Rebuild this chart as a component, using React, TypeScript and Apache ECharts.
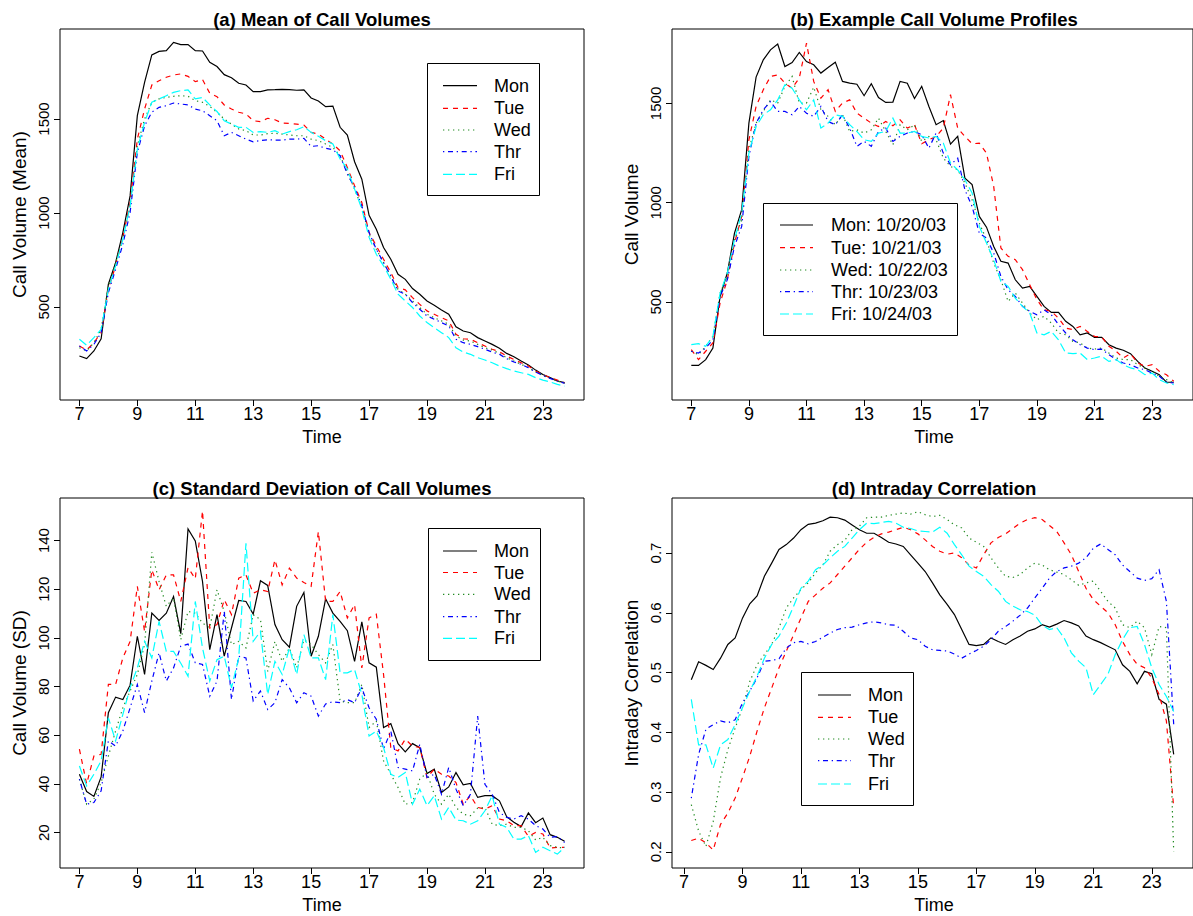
import React, { useEffect, useRef } from "react";
import * as echarts from "echarts";

// ---------- DATA ----------
const DAYS = ["Mon", "Tue", "Wed", "Thr", "Fri"];
const DATE_LABELS = ["Mon: 10/20/03", "Tue: 10/21/03", "Wed: 10/22/03", "Thr: 10/23/03", "Fri: 10/24/03"];
const TITLES = [
  "(a) Mean of Call Volumes",
  "(b) Example Call Volume Profiles",
  "(c) Standard Deviation of Call Volumes",
  "(d) Intraday Correlation",
];
const Y_TITLES = ["Call Volume (Mean)", "Call Volume", "Call Volume (SD)", "Intraday Correlation"];
const X_TITLE = "Time";
const X_TICKS = [7, 9, 11, 13, 15, 17, 19, 21, 23];
const Y_TICKS_A = [500, 1000, 1500];
const Y_TICKS_B = [500, 1000, 1500];
const Y_TICKS_C = [20, 40, 60, 80, 100, 120, 140];
const Y_TICKS_D = [0.2, 0.3, 0.4, 0.5, 0.6, 0.7];

// quarter-hour time stamps
const TIMES_ABC = Array.from({ length: 68 }, (_, i) => 7 + i * 0.25); // 7:00 .. 23:45
const TIMES_D = Array.from({ length: 67 }, (_, i) => 7.25 + i * 0.25); // 7:15 .. 23:45

// (a) mean call volumes
const A_MON = [239,225,266,331, 621,736,896,1091, 1518,1695,1841,1860, 1864,1908,1896,1896, 1864,1862,1802,1779, 1736,1720,1690,1681, 1646,1646,1655,1656, 1658,1656,1653,1655, 1612,1596,1566,1569, 1456,1415,1273,1180, 988,914,816,754, 674,647,598,568, 532,509,484,461, 395,372,363,337, 319,301,280,253, 235,212,191,164, 141,124,106,97];
const A_TUE = [292,271,310,363, 594,719,870,1056, 1393,1553,1681,1704, 1722,1734,1740,1727, 1699,1710,1637,1619, 1575,1553,1536,1527, 1491,1486,1504,1496, 1479,1477,1473,1468, 1429,1420,1393,1367, 1331,1242,1145,1056, 896,825,754,683, 603,591,550,514, 479,461,443,426, 355,331,328,310, 292,275,262,239, 221,203,186,159, 141,124,111,97];
const A_WED = [283,266,310,381, 612,736,861,1038, 1358,1500,1589,1607, 1615,1621,1624,1621, 1598,1589,1567,1536, 1500,1473,1447,1438, 1415,1415,1422,1424, 1420,1415,1411,1411, 1393,1385,1367,1349, 1305,1216,1127,1029, 887,807,736,665, 594,568,532,497, 461,443,426,408, 346,324,319,301, 283,271,253,230, 212,195,177,154, 136,120,106,94];
const A_THR = [292,266,301,363, 576,701,834,1003, 1322,1464,1536,1562, 1571,1585,1580,1575, 1553,1544,1518,1491, 1411,1429,1411,1393, 1379,1385,1390,1388, 1388,1393,1393,1397, 1354,1358,1344,1337, 1305,1207,1136,1038, 896,807,736,665, 585,568,523,488, 452,435,417,399, 328,310,301,289, 275,260,248,225, 207,195,177,154, 136,120,106,94];
const A_FRI = [328,296,337,381, 594,719,861,1038, 1340,1482,1589,1607, 1624,1642,1651,1655, 1607,1615,1575,1540, 1491,1473,1456,1456, 1429,1433,1429,1438, 1420,1433,1443,1459, 1429,1408,1385,1367, 1287,1234,1127,1021, 870,780,719,648, 568,532,497,452, 417,390,363,337, 283,260,248,230, 218,203,186,172, 159,150,141,124, 111,101,88,79];

// (b) example profiles (week of 10/20/03)
const B_MON = [181,181,210,268, 528,646,847,965, 1401,1633,1720,1770, 1799,1686,1706,1757, 1711,1695,1653,1681, 1708,1611,1602,1597, 1539,1599,1530,1505, 1507,1611,1602,1525, 1586,1485,1393,1414, 1295,1334,1124,1091, 931,877,780,705, 696,612,570,579, 528,478,448,448, 403,377,335,344, 322,322,285,268, 257,240,201,168, 151,134,96,96];
const B_TUE = [260,210,252,294, 495,612,797,931, 1317,1485,1569,1636, 1644,1602,1577,1628, 1804,1611,1527,1569, 1460,1502,1518,1451, 1426,1401,1384,1409, 1388,1418,1376,1393, 1297,1317,1334,1376, 1544,1376,1334,1297, 1300,1250,1082,772, 730,713,663,587, 512,461,453,419, 369,361,377,352, 327,324,277,252, 218,240,193,176, 184,151,134,101];
const B_WED = [252,235,277,327, 545,629,814,914, 1267,1401,1460,1518, 1502,1586,1636,1502, 1502,1582,1468,1435, 1393,1443,1359,1367, 1351,1367,1426,1359, 1292,1393,1367,1393, 1309,1334,1317,1225, 1183,1166,1099,1015, 898,814,696,612, 503,545,495,445, 411,428,394,344, 335,302,294,268, 263,268,243,218, 210,210,184,168, 151,126,109,92];
const B_THR = [252,243,268,310, 528,612,780,881, 1233,1401,1468,1510, 1460,1460,1443,1485, 1451,1435,1485,1409, 1393,1443,1376,1284, 1309,1284,1359,1376, 1309,1334,1351,1359, 1342,1275,1351,1250, 1191,1225,1065,981, 847,822,747,629, 562,528,478,453, 436,461,436,386, 344,310,285,268, 260,263,235,210, 193,184,168,159, 142,126,96,92];
const B_FRI = [285,290,277,327, 545,646,814,948, 1250,1384,1443,1468, 1518,1594,1577,1518, 1468,1518,1376,1401, 1443,1435,1393,1359, 1317,1309,1351,1359, 1426,1351,1351,1359, 1334,1326,1334,1300, 1200,1166,1116,1049, 881,797,713,604, 579,520,478,445, 344,335,352,310, 243,240,243,210, 218,227,201,210, 184,168,159,134, 142,109,92,84];

// (c) standard deviations
const C_MON = [44,36.9,34.9,42.9, 69.3,75.7,74.7,80.6, 100.7,85,110.2,107.2, 110.2,117,101.8,144.8, 139.9,123.2,95.2,109.6, 92.5,104.1,115.4,115, 109.8,123.5,121.6,105.5, 99.3,96.2,113,118.7, 92.5,100.7,116.1,110.2, 106.8,103,90.4,106.6, 89.8,88,63.2,64.8, 56.6,53.2,56.6,54.9, 44.3,46.1,36.5,38.8, 44.7,39.7,40.2,34.5, 35.2,35.2,33.1,26.6, 24.3,22.5,28.1,24.1, 26,19.2,18.1,16.5];
const C_TUE = [54.3,40,51.5,52.2, 80.9,80.9,91.8,98.6, 121.2,102.7,128,119.8, 125.9,125.9,115,128.9, 124.3,152.2,104.1,105.5, 115.7,109.6,124.6,125.9, 118.4,119.8,119.1,132.1, 121.8,128.7,124.6,122.8, 121.2,143.7,115,115, 119.1,108.2,113.7,87.7, 108.2,109.8,85,55, 53.6,58.4,55.6,55, 42.7,46.1,44,43.3, 40.6,31.7,35.2,30.4, 29.7,31.1,25.6,24.9, 22.9,22.9,18.5,20.1, 19.5,13.7,14,14];
const C_WED = [42,31.7,33.8,40.6, 51.5,61.8,71.3,78.2, 85,97.3,135.2,123.2, 113,116.4,99.3,110.9, 110.2,106.1,104.1,119.8, 110.9,97.3,98.6,95.9, 109.6,107.6,86.3,98.6, 90.4,95.9,87.7,99.3, 97.3,93.2,89.8,97.3, 74.1,73.4,73.4,80.9, 63.2,65.9,49.5,44, 38.6,31.7,32.4,42, 44.7,35.8,31.7,35.8, 30.4,27.6,27,30.1, 30.4,23.5,22.9,23.5, 22.2,22.2,20.8,17, 18.1,14.7,14,13.7];
const C_THR = [42,31.7,32.4,37.2, 57.7,55.6,61.8,71.3, 80.9,69.3,82.3,93.9, 82.3,87.7,96.6,97.5, 89.8,89.1,76.1,82.3, 110.9,74.7,92.5,91.8, 74.1,78.2,70.6,73.4, 82.9,79.5,73.4,77.5, 76.1,67.9,72.9,73.8, 73.4,74.7,73.4,79.5, 71.3,66.6,54.3,61.8, 46.8,46.1,45.4,56.3, 42.7,44,35.8,46.8, 37.9,31.1,35.8,67.9, 39.9,35.8,28.3,26.3, 25.6,27,25.6,22.9, 21.5,18.1,18.4,16];
const C_FRI = [47.4,39.2,44,49.5, 67.2,57.7,68.6,79.5, 87.7,98.6,91.8,106.8, 94.5,94.5,89.6,84.3, 115,95.9,82.3,91.1, 92.5,79.5,91.8,138.9, 98.6,102.7,76.8,90.4, 85,95.9,85,101.4, 91.8,91.8,82.9,109.6, 85.7,85.7,87,76.8, 59.7,61.8,55,44, 42.7,44.7,31.7,37.9, 31.1,35.2,25.6,30.4, 25.2,24.9,23.5,24.9, 29,35.2,23.5,22.2, 17.4,17.4,18.8,11.9, 14,12.6,11.2,14];

// (d) intraday correlations (7:15 .. 23:45)
const D_MON = [0.488,0.518,0.512, 0.505,0.524,0.547,0.558, 0.591,0.615,0.628,0.661, 0.683,0.706,0.714,0.725, 0.739,0.748,0.750,0.754, 0.760,0.759,0.755,0.747, 0.739,0.733,0.733,0.726, 0.718,0.715,0.711,0.697, 0.683,0.669,0.650,0.630, 0.614,0.597,0.572,0.547, 0.545,0.547,0.558,0.552, 0.547,0.555,0.561,0.569, 0.573,0.580,0.576,0.581, 0.587,0.583,0.578,0.561, 0.555,0.550,0.544,0.538, 0.513,0.502,0.481,0.502, 0.498,0.455,0.447,0.363];
const D_TUE = [0.219,0.223,0.215, 0.203,0.246,0.265,0.290, 0.324,0.360,0.402,0.441, 0.474,0.508,0.536,0.563, 0.591,0.619,0.630,0.641, 0.650,0.664,0.678,0.692, 0.706,0.718,0.726,0.732, 0.735,0.739,0.743,0.739, 0.732,0.722,0.711,0.703, 0.698,0.700,0.692,0.680, 0.675,0.697,0.717,0.726, 0.732,0.741,0.750,0.756, 0.759,0.756,0.746,0.736, 0.717,0.697,0.669,0.641, 0.622,0.611,0.600,0.580, 0.552,0.530,0.514,0.508, 0.491,0.463,0.419,0.274];
const D_WED = [0.279,0.235,0.209, 0.251,0.324,0.371,0.407, 0.441,0.485,0.513,0.530, 0.547,0.575,0.608,0.625, 0.639,0.650,0.667,0.680, 0.703,0.714,0.721,0.739, 0.745,0.759,0.760,0.760, 0.763,0.765,0.767,0.765, 0.769,0.764,0.761,0.763, 0.756,0.747,0.742,0.725, 0.718,0.711,0.692,0.675, 0.661,0.659,0.664,0.675, 0.683,0.680,0.672,0.668, 0.664,0.655,0.646,0.650, 0.653,0.636,0.619,0.608, 0.580,0.575,0.586,0.575, 0.530,0.577,0.575,0.201];
const D_THR = [0.290,0.363,0.405, 0.413,0.419,0.416,0.421, 0.449,0.469,0.491,0.519, 0.520,0.523,0.541,0.550, 0.552,0.548,0.552,0.559, 0.566,0.572,0.575,0.576, 0.580,0.583,0.585,0.583, 0.580,0.579,0.569,0.558, 0.555,0.544,0.538,0.537, 0.536,0.531,0.524,0.531, 0.537,0.544,0.555,0.569, 0.577,0.586,0.596,0.608, 0.625,0.641,0.658,0.669, 0.675,0.678,0.683,0.692, 0.708,0.715,0.706,0.697, 0.680,0.669,0.658,0.654, 0.657,0.672,0.619,0.413];
const D_FRI = [0.455,0.379,0.379, 0.340,0.379,0.388,0.413, 0.441,0.469,0.494,0.524, 0.547,0.561,0.583,0.611, 0.641,0.653,0.672,0.680, 0.692,0.703,0.711,0.725, 0.739,0.750,0.749,0.751, 0.753,0.750,0.743,0.741, 0.737,0.736,0.735,0.743, 0.733,0.714,0.697,0.678, 0.669,0.661,0.647,0.636, 0.619,0.611,0.605,0.602, 0.596,0.579,0.572,0.575, 0.558,0.533,0.519,0.508, 0.463,0.480,0.497,0.530, 0.555,0.575,0.577,0.547, 0.508,0.480,0.460,0.435];

// ---------- STYLE / LAYOUT ----------
const FONT = '"Liberation Sans", Arial, Helvetica, sans-serif';
const LINE_STYLES = [
  { color: "#000000", dash: "solid" as any },
  { color: "#ff0000", dash: [5, 5] },
  { color: "#228b22", dash: [1.3, 3.7] },
  { color: "#0000ff", dash: [1.3, 3.7, 5, 3.7] },
  { color: "#00ffff", dash: [9, 4] },
];
const LW = 1.2;

const PANELS = [
  { left: 60, top: 29, width: 524, height: 371, xMin: 6.33, xMax: 24.42, yMin: 5, yMax: 1979, yTicks: Y_TICKS_A, times: TIMES_ABC, data: [A_MON, A_TUE, A_WED, A_THR, A_FRI], labels: DAYS,
    legend: { x0: 427.5, y0: 63.5, x1: 539.5, y1: 195.5, lx0: 443, lx1: 477, tx: 494, rows: [85.7, 108.3, 130, 151.7, 174.3] } },
  { left: 672, top: 29, width: 524, height: 371, xMin: 6.33, xMax: 24.42, yMin: 6.5, yMax: 1875, yTicks: Y_TICKS_B, times: TIMES_ABC, data: [B_MON, B_TUE, B_WED, B_THR, B_FRI], labels: DATE_LABELS,
    legend: { x0: 763.5, y0: 203.5, x1: 957.5, y1: 335.5, lx0: 780, lx1: 813, tx: 831, rows: [225, 247.7, 270, 291.7, 314] } },
  { left: 60, top: 498, width: 524, height: 370, xMin: 6.33, xMax: 24.42, yMin: 5.5, yMax: 157.5, yTicks: Y_TICKS_C, times: TIMES_ABC, data: [C_MON, C_TUE, C_WED, C_THR, C_FRI], labels: DAYS,
    legend: { x0: 428.5, y0: 528.5, x1: 540.5, y1: 660.5, lx0: 443, lx1: 477, tx: 494, rows: [551, 572.5, 594.3, 616.7, 638.3] } },
  { left: 672, top: 498, width: 524, height: 370, xMin: 6.59, xMax: 24.41, yMin: 0.173, yMax: 0.792, yTicks: Y_TICKS_D, times: TIMES_D, data: [D_MON, D_TUE, D_WED, D_THR, D_FRI], labels: DAYS,
    legend: { x0: 801.5, y0: 672.5, x1: 913.5, y1: 805.5, lx0: 818, lx1: 851, tx: 868, rows: [695, 717.3, 739, 760.7, 784] } },
];

function buildOption() {
  const grid: any[] = [];
  const xAxis: any[] = [];
  const yAxis: any[] = [];
  const series: any[] = [];
  const graphic: any[] = [];

  PANELS.forEach((p, pi) => {
    grid.push({ left: p.left, top: p.top, width: p.width, height: p.height, show: true, borderColor: "#000", borderWidth: 1, backgroundColor: "transparent", containLabel: false });
    xAxis.push({
      type: "value", gridIndex: pi, min: p.xMin, max: p.xMax,
      axisLine: { show: false },
      axisTick: { show: true, length: 6, inside: false, customValues: X_TICKS, lineStyle: { color: "#000", width: 1 } },
      axisLabel: { show: true, customValues: X_TICKS, fontSize: 18, fontFamily: FONT, color: "#000", margin: 5, formatter: (v: number) => String(v) },
      splitLine: { show: false },
    });
    yAxis.push({
      type: "value", gridIndex: pi, min: p.yMin, max: p.yMax,
      axisLine: { show: false },
      axisTick: { show: true, length: 6, inside: false, customValues: p.yTicks, lineStyle: { color: "#000", width: 1 } },
      axisLabel: { show: true, customValues: p.yTicks, rotate: 90, fontSize: 15, fontFamily: FONT, color: "#000", margin: 9, formatter: (v: number) => String(Math.round(v * 1000) / 1000) },
      splitLine: { show: false },
    });
    p.data.forEach((vals, si) => {
      const st = LINE_STYLES[si];
      series.push({
        type: "line", name: `${TITLES[pi]}-${p.labels[si]}`, xAxisIndex: pi, yAxisIndex: pi,
        data: vals.map((v, k) => [p.times[k], v]),
        showSymbol: false, symbol: "none", clip: true, z: 2 + si,
        lineStyle: { color: st.color, width: LW, type: st.dash, cap: "butt", join: "miter" },
      });
    });

    const cx = p.left + p.width / 2;
    const cxTitle = pi % 2 === 0 ? cx : 934;
    const cy = p.top + p.height / 2;
    graphic.push({ type: "text", x: cxTitle, y: p.top - 10, z: 50,
      style: { text: TITLES[pi], fill: "#000", fontSize: 18.5, fontWeight: "bold", fontFamily: FONT, align: "center", verticalAlign: "middle" } });
    graphic.push({ type: "text", x: cxTitle, y: p.top + p.height + 37, z: 50,
      style: { text: X_TITLE, fill: "#000", fontSize: 18, fontFamily: FONT, align: "center", verticalAlign: "middle" } });
    graphic.push({ type: "text", x: p.left - 41, y: cy, rotation: Math.PI / 2, z: 50,
      style: { text: Y_TITLES[pi], fill: "#000", fontSize: 19, fontFamily: FONT, align: "center", verticalAlign: "middle" } });

    const lg = p.legend;
    graphic.push({ type: "rect", z: 60, shape: { x: lg.x0, y: lg.y0, width: lg.x1 - lg.x0, height: lg.y1 - lg.y0 },
      style: { fill: "#fff", stroke: "#000", lineWidth: 1 } });
    p.labels.forEach((lab, si) => {
      const st = LINE_STYLES[si];
      graphic.push({ type: "line", z: 61, shape: { x1: lg.lx0, y1: lg.rows[si], x2: lg.lx1, y2: lg.rows[si] },
        style: { stroke: st.color, lineWidth: LW, lineDash: st.dash === "solid" ? null : st.dash } });
      graphic.push({ type: "text", z: 61, x: lg.tx, y: lg.rows[si],
        style: { text: lab, fill: "#000", fontSize: 18, fontFamily: FONT, align: "left", verticalAlign: "middle" } });
    });
  });

  return { animation: false, backgroundColor: "#fff", grid, xAxis, yAxis, series, graphic };
}

export default function App() {
  const ref = useRef<HTMLDivElement>(null);
  useEffect(() => {
    if (!ref.current) return;
    const chart = echarts.init(ref.current, null, { renderer: "svg" });
    chart.setOption(buildOption() as any);
    return () => chart.dispose();
  }, []);
  return <div ref={ref} style={{ position: "absolute", left: 0, top: 0, width: 1193, height: 916, background: "#fff" }} />;
}
